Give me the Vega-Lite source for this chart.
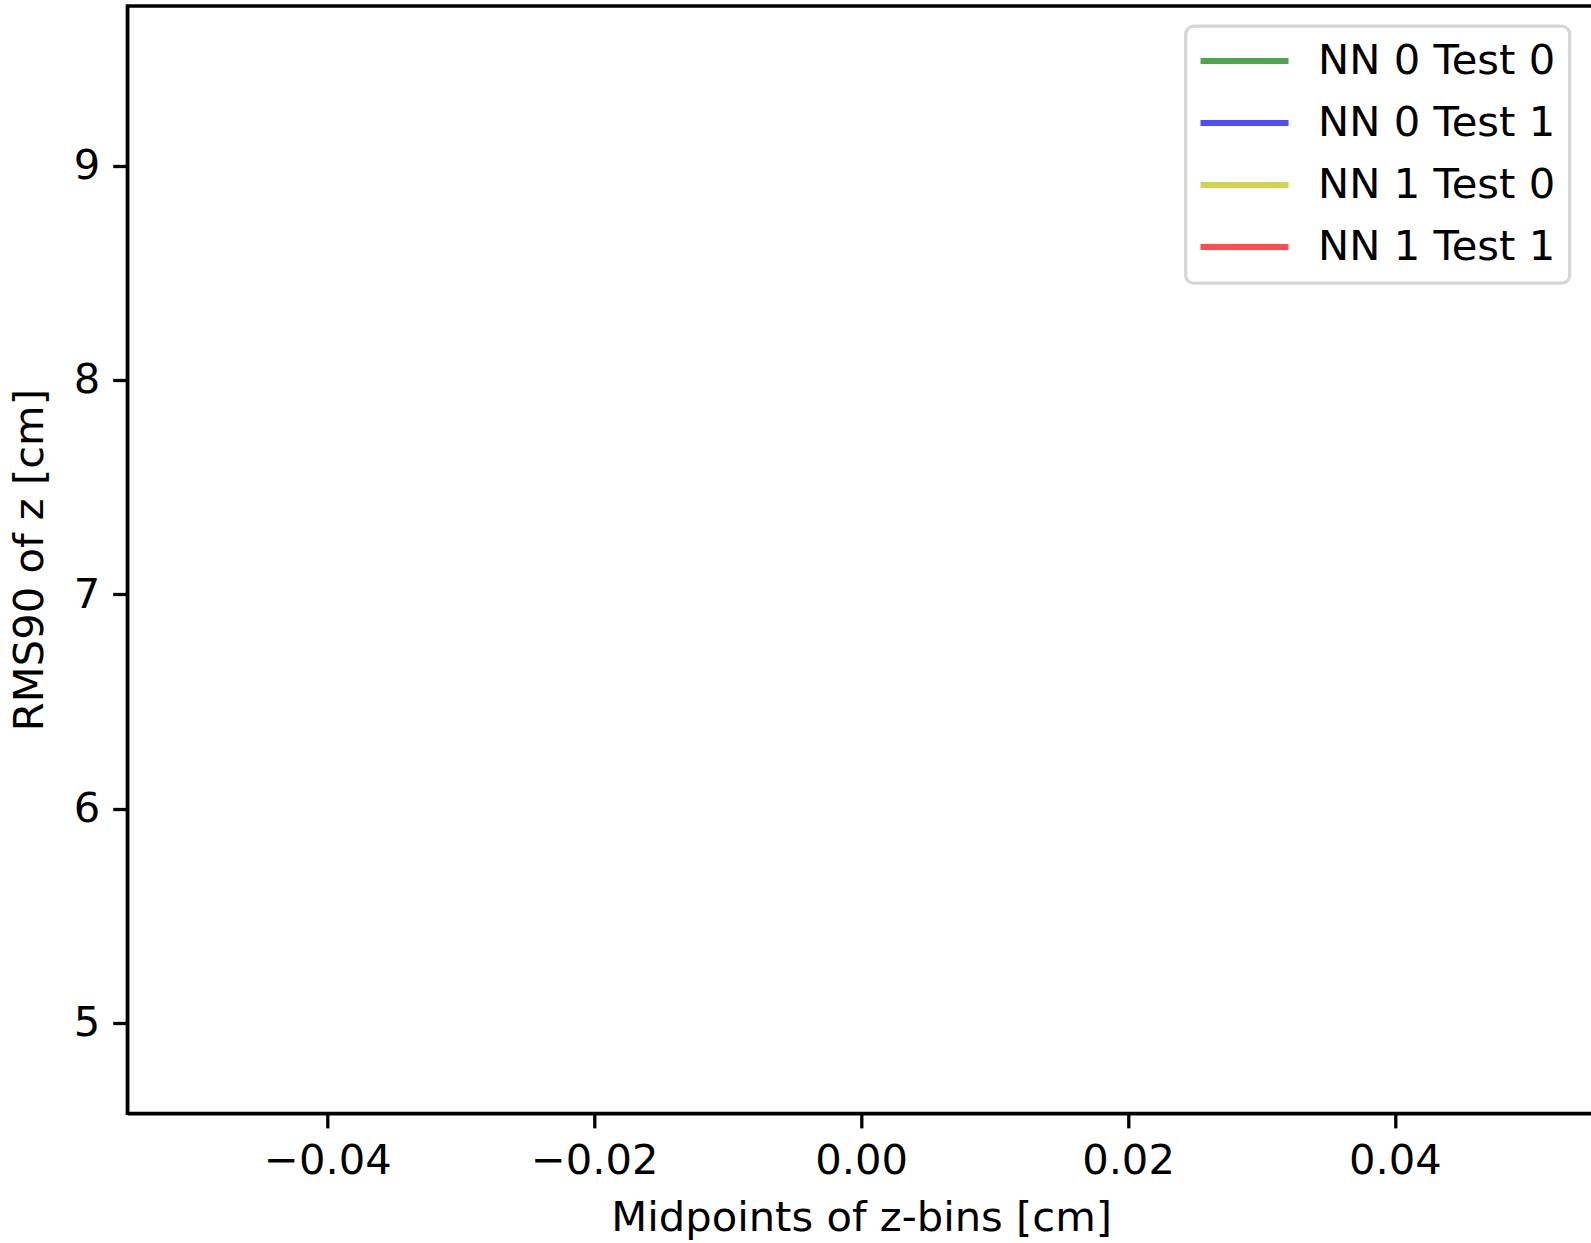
{
  "$schema": "https://vega.github.io/schema/vega-lite/v6.json",
  "autosize": {"type": "none"},
  "padding": {"left": 127.3, "top": 6, "right": 0, "bottom": 130},
  "width": 1467.7,
  "height": 1107.3,
  "background": "white",
  "config": {
    "font": "DejaVu Sans",
    "view": {"stroke": "black", "strokeWidth": 3.3},
    "legend": {"strokeWidth": 3.3},
    "axis": {
      "domainColor": "black", "domainWidth": 3.3,
      "tickColor": "black", "tickWidth": 3.3, "tickSize": 14.6,
      "labelColor": "black", "labelFontSize": 41.67, "labelFont": "DejaVu Sans",
      "labelPadding": 13,
      "titleColor": "black", "titleFontSize": 41.67, "titleFont": "DejaVu Sans", "titleFontWeight": "normal",
      "grid": false
    }
  },
  "data": {
    "values": [
      {"series": "NN 0 Test 0", "z": null, "rms90": null},
      {"series": "NN 0 Test 1", "z": null, "rms90": null},
      {"series": "NN 1 Test 0", "z": null, "rms90": null},
      {"series": "NN 1 Test 1", "z": null, "rms90": null}
    ]
  },
  "mark": {"type": "line", "strokeWidth": 6},
  "encoding": {
    "x": {
      "field": "z", "type": "quantitative",
      "scale": {"domain": [-0.055, 0.055], "nice": false, "zero": false},
      "axis": {"values": [-0.04, -0.02, 0, 0.02, 0.04], "format": ".2f", "title": "Midpoints of z-bins [cm]", "titlePadding": 15}
    },
    "y": {
      "field": "rms90", "type": "quantitative",
      "scale": {"domain": [4.578, 9.745], "nice": false, "zero": false},
      "axis": {"values": [5, 6, 7, 8, 9], "format": "d", "title": "RMS90 of z [cm]", "titlePadding": 22}
    },
    "color": {
      "field": "series", "type": "nominal",
      "scale": {
        "domain": ["NN 0 Test 0", "NN 0 Test 1", "NN 1 Test 0", "NN 1 Test 1"],
        "range": ["#4da64d", "#4d4dff", "#d2d24d", "#ff4d4d"]
      },
      "legend": {
        "title": null,
        "orient": "none",
        "legendX": 1058.4,
        "legendY": 20.2,
        "symbolType": "M-4,0H4",
        "symbolSize": 484,
        "symbolOffset": 24,
        "symbolStrokeWidth": 6,
        "labelFontSize": 41.67,
        "labelFont": "DejaVu Sans",
        "labelColor": "black",
        "labelOffset": 52.7,
        "labelLimit": 0,
        "rowPadding": 19,
        "padding": 14,
        "strokeColor": "#d6d6d6",
        "cornerRadius": 8,
        "fillColor": "white"
      }
    }
  }
}
